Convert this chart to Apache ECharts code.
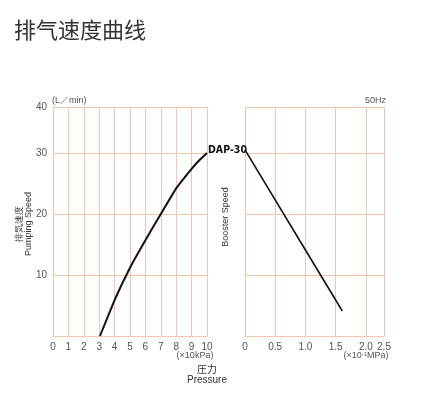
<!DOCTYPE html>
<html>
<head>
<meta charset="utf-8">
<script src="https://cdn.jsdelivr.net/npm/echarts@6/dist/echarts.min.js"></script>
<style>
  html, body { margin: 0; padding: 0; background: #fff; }
  #main { width: 441px; height: 416px; }
</style>
</head>
<body>
<div id="main"></div>
<script>
// left panel: pumping speed vs pressure (x10kPa)
const pumpPressure = [3.05, 4, 5, 6, 7, 8, 9, 9.5, 10];
const pumpSpeed = [0, 5.9, 11.2, 15.7, 20, 24.2, 27.4, 28.8, 30];
// right panel: booster speed vs pressure (x10^-1 MPa)
const boostPressure = [0, 1.0, 1.61];
const boostSpeed = [30.5, 14.1, 4.1];

// top of both plots is labelled 40 but sits at ~37.5 on the scale,
// right x axis end is labelled 2.5 but sits at ~2.3
const speedMax = 37.541;   // 229px plot -> exactly 61px per 10 L/min
const boostPressMax = 2.3;

const gridColor = '#f6c4ab';
const latin = "'Liberation Sans', Arial, sans-serif";
const cjk = "'Noto Sans CJK JP', 'Noto Sans CJK SC', sans-serif";

const chart = echarts.init(document.getElementById('main'));

const axisLabel = { color: '#555', fontSize: 10, fontFamily: latin, margin: 6 };
const splitLine = { show: true, lineStyle: { color: gridColor, width: 1, type: 'solid' } };
const axisLine = { show: true, lineStyle: { color: gridColor, width: 1 } };

chart.setOption({
  animation: false,
  title: {
    text: '排气速度曲线',
    left: 9, top: 14,
    textStyle: { fontSize: 22, fontWeight: 'normal', color: '#333', fontFamily: "'Noto Sans CJK SC', sans-serif" }
  },
  grid: [
    { left: 53, top: 107, width: 154, height: 229 },
    { left: 245, top: 107, width: 139, height: 229 }
  ],
  xAxis: [
    {
      gridIndex: 0, type: 'value', min: 0, max: 10, interval: 1,
      axisLine: axisLine, axisTick: { show: false }, splitLine: splitLine,
      axisLabel: axisLabel
    },
    {
      gridIndex: 1, type: 'value', min: 0, max: boostPressMax, interval: 0.5,
      axisLine: axisLine, axisTick: { show: false }, splitLine: splitLine,
      axisLabel: Object.assign({}, axisLabel, {
        showMaxLabel: true,
        formatter: v => v === 0 ? '0' : (Math.abs(v - boostPressMax) < 1e-6 ? '2.5' : v.toFixed(1))
      })
    }
  ],
  yAxis: [
    {
      gridIndex: 0, type: 'value', min: 0, max: speedMax, interval: 10,
      axisLine: axisLine, axisTick: { show: false }, splitLine: splitLine,
      axisLabel: Object.assign({}, axisLabel, {
        showMaxLabel: true,
        formatter: v => v === 0 ? '' : (v > 35 ? '40' : String(v))
      })
    },
    {
      gridIndex: 1, type: 'value', min: 0, max: speedMax, interval: 10,
      axisLine: axisLine, axisTick: { show: false }, splitLine: splitLine,
      axisLabel: { show: false }
    }
  ],
  series: [
    {
      type: 'line', xAxisIndex: 0, yAxisIndex: 0,
      data: pumpPressure.map((x, i) => [x, pumpSpeed[i]]),
      showSymbol: false, smooth: 0.1,
      lineStyle: { color: '#111', width: 2 },
      endLabel: {
        show: true, formatter: 'DAP-30', distance: 1, offset: [0, -3],
        color: '#111', fontSize: 10.5, fontWeight: 'bold',
        fontFamily: "'DejaVu Sans Condensed', sans-serif"
      }
    },
    {
      type: 'line', xAxisIndex: 1, yAxisIndex: 1,
      data: boostPressure.map((x, i) => [x, boostSpeed[i]]),
      showSymbol: false,
      lineStyle: { color: '#111', width: 1.6 }
    }
  ],
  graphic: [
    { type: 'text', left: 52, top: 96, style: { text: '(L／min)', fontSize: 9, fill: '#555', fontFamily: latin } },
    { type: 'text', right: 55, top: 96, style: { text: '50Hz', fontSize: 9, fill: '#555', fontFamily: latin } },
    {
      type: 'text', x: 24, y: 224, rotation: Math.PI / 2,
      style: {
        text: '排気速度\nPumping Speed', fontSize: 9, lineHeight: 9, fill: '#333',
        fontFamily: latin, align: 'center', verticalAlign: 'middle'
      }
    },
    {
      type: 'text', x: 226, y: 217, rotation: Math.PI / 2,
      style: {
        text: 'Booster Speed', fontSize: 9, fill: '#333',
        fontFamily: latin, align: 'center', verticalAlign: 'middle'
      }
    },
    { type: 'text', x: 195, y: 356, style: { text: '(×10kPa)', fontSize: 9, fill: '#555', fontFamily: latin, align: 'center', verticalAlign: 'middle' } },
    {
      type: 'text', x: 366, y: 356,
      style: {
        text: '(×10{s|-1}MPa)', fontSize: 9, fill: '#555', fontFamily: latin, align: 'center', verticalAlign: 'middle',
        rich: { s: { fontSize: 6, verticalAlign: 'top', padding: [0, 0, 4, 0], fill: '#555' } }
      }
    },
    { type: 'text', x: 207, y: 369, style: { text: '圧力', fontSize: 10, fill: '#333', fontFamily: cjk, align: 'center', verticalAlign: 'middle' } },
    { type: 'text', x: 207, y: 380, style: { text: 'Pressure', fontSize: 10, fill: '#333', fontFamily: latin, align: 'center', verticalAlign: 'middle' } }
  ]
});
</script>
</body>
</html>
